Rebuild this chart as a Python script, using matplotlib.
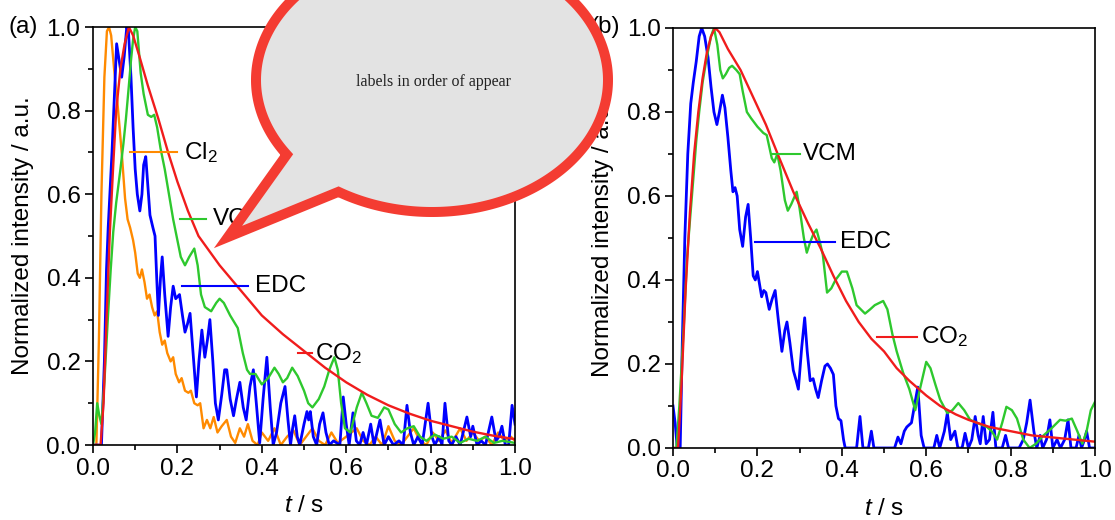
import numpy as np
import matplotlib
matplotlib.use('Agg')
import matplotlib.pyplot as plt
from matplotlib.patches import Polygon
from matplotlib.ticker import MultipleLocator

plt.rcParams['font.family'] = ['Liberation Sans', 'DejaVu Sans']
plt.rcParams['mathtext.fontset'] = 'custom'
plt.rcParams['mathtext.rm'] = 'Liberation Sans'
plt.rcParams['mathtext.it'] = 'Liberation Sans:italic'
plt.rcParams['mathtext.default'] = 'regular'

# panel (a)
cl2_t = [0.0, 0.008, 0.014, 0.02, 0.027, 0.033, 0.038, 0.043, 0.05, 0.057, 0.063, 0.068, 0.076, 0.082,
         0.088, 0.095, 0.1, 0.106, 0.111, 0.116, 0.122, 0.128, 0.134, 0.14, 0.146, 0.152, 0.158, 0.164,
         0.17, 0.176, 0.184, 0.19, 0.196, 0.204, 0.21, 0.218, 0.226, 0.232, 0.24, 0.248, 0.254, 0.262,
         0.27, 0.278, 0.286, 0.295, 0.305, 0.317, 0.327, 0.337, 0.348, 0.358, 0.367, 0.378, 0.39, 0.4,
         0.415, 0.43, 0.445, 0.46, 0.475, 0.49, 0.505, 0.52, 0.535, 0.55, 0.565, 0.58, 0.6, 0.625, 0.64,
         0.655, 0.67, 0.685, 0.7, 0.715, 0.73, 0.745, 0.76, 0.775, 0.79, 0.805, 0.82, 0.835, 0.85, 0.87,
         0.885, 0.9, 0.915, 0.93, 0.945, 0.96, 0.975, 0.99, 1.0]
cl2_y = [0.0, 0.0, 0.25, 0.6, 0.88, 0.99, 1.0, 0.98, 0.9, 0.83, 0.76, 0.7, 0.59, 0.54,
         0.52, 0.49, 0.46, 0.41, 0.4, 0.42, 0.39, 0.35, 0.36, 0.33, 0.31, 0.32, 0.27, 0.24,
         0.25, 0.22, 0.2, 0.21, 0.17, 0.15, 0.16, 0.13, 0.125, 0.13, 0.1, 0.095, 0.1, 0.04,
         0.06, 0.04, 0.067, 0.03, 0.045, 0.06, 0.02, 0.005, 0.04, 0.02, 0.05, 0.01, 0.0, 0.03,
         0.01, 0.04, 0.0, 0.02, 0.035, 0.0, 0.02, 0.04, 0.01, 0.0, 0.03, 0.005, 0.02, 0.04, 0.01,
         0.0, 0.02, 0.0, 0.045, 0.01, 0.0, 0.02, 0.04, 0.01, 0.0, 0.03, 0.01, 0.035, 0.005, 0.04,
         0.01, 0.03, 0.01, 0.02, 0.0, 0.03, 0.01, 0.02, 0.01]

vcm_a_t = [0.0, 0.005, 0.01, 0.015, 0.02, 0.027, 0.035, 0.042, 0.048, 0.055, 0.065, 0.072, 0.078, 0.085,
           0.09, 0.095, 0.1, 0.105, 0.113, 0.12, 0.13, 0.138, 0.145, 0.152, 0.16, 0.17, 0.18, 0.19, 0.2,
           0.208, 0.218, 0.228, 0.24, 0.248, 0.256, 0.265, 0.28, 0.292, 0.3, 0.31, 0.325, 0.343, 0.355,
           0.365, 0.372, 0.385, 0.4, 0.415, 0.43, 0.44, 0.45, 0.46, 0.472, 0.485, 0.5, 0.51, 0.52, 0.535,
           0.548, 0.56, 0.572, 0.58, 0.588, 0.597, 0.61, 0.625, 0.637, 0.648, 0.66, 0.675, 0.69, 0.7,
           0.715, 0.73, 0.745, 0.76, 0.775, 0.79, 0.81, 0.83, 0.85, 0.87, 0.89, 0.91, 0.93, 0.95, 0.97, 1.0]
vcm_a_y = [0.0, 0.03, 0.1, 0.07, 0.05, 0.15, 0.3, 0.42, 0.51, 0.58, 0.66, 0.72, 0.78, 0.86,
           0.92, 0.97, 1.0, 0.99, 0.89, 0.84, 0.79, 0.785, 0.79, 0.76, 0.71, 0.66, 0.6, 0.54, 0.49,
           0.45, 0.43, 0.45, 0.47, 0.43, 0.36, 0.33, 0.32, 0.34, 0.35, 0.34, 0.31, 0.28, 0.22,
           0.18, 0.17, 0.17, 0.145, 0.16, 0.185, 0.17, 0.15, 0.16, 0.185, 0.165, 0.13, 0.1, 0.09, 0.11,
           0.14, 0.18, 0.21, 0.18, 0.1, 0.04, 0.03, 0.09, 0.125, 0.1, 0.07, 0.065, 0.09, 0.085,
           0.05, 0.03, 0.04, 0.045, 0.02, 0.01, 0.025, 0.015, 0.02, 0.005, 0.015, 0.01, 0.02, 0.005, 0.01, 0.005]

edc_a_t = [0.0, 0.02, 0.027, 0.032, 0.036, 0.04, 0.045, 0.05, 0.056, 0.062, 0.068, 0.074, 0.08, 0.084,
           0.09, 0.095, 0.1, 0.105, 0.111, 0.116, 0.12, 0.125, 0.13, 0.135, 0.142, 0.147, 0.151, 0.155,
           0.16, 0.164, 0.17, 0.178, 0.184, 0.19, 0.196, 0.205, 0.212, 0.218, 0.224, 0.23, 0.237, 0.245,
           0.251, 0.258, 0.265, 0.271, 0.277, 0.284, 0.29, 0.297, 0.305, 0.312, 0.317, 0.325, 0.333, 0.34,
           0.348, 0.356, 0.363, 0.372, 0.38, 0.387, 0.395, 0.403, 0.412, 0.42, 0.427, 0.435, 0.445, 0.455,
           0.462, 0.468, 0.473, 0.478, 0.484, 0.49, 0.5, 0.507, 0.511, 0.515, 0.522, 0.53, 0.537, 0.545,
           0.552, 0.56, 0.57, 0.585, 0.593, 0.6, 0.607, 0.616, 0.624, 0.632, 0.64, 0.648, 0.658, 0.666,
           0.68, 0.69, 0.7, 0.712, 0.725, 0.735, 0.744, 0.752, 0.76, 0.77, 0.78, 0.794, 0.803, 0.81, 0.82,
           0.827, 0.834, 0.843, 0.85, 0.86, 0.87, 0.886, 0.895, 0.9, 0.91, 0.92, 0.93, 0.945, 0.955, 0.962,
           0.969, 0.977, 0.985, 0.993, 1.0]
edc_a_y = [0.0, 0.0, 0.2, 0.42, 0.52, 0.6, 0.7, 0.82, 0.96, 0.92, 0.88, 0.93, 1.0, 0.99,
           0.88, 0.76, 0.66, 0.6, 0.56, 0.6, 0.67, 0.69, 0.62, 0.55, 0.52, 0.5, 0.4, 0.31,
           0.4, 0.45, 0.36, 0.26, 0.33, 0.38, 0.35, 0.36, 0.31, 0.27, 0.29, 0.315, 0.22, 0.115,
           0.2, 0.275, 0.21, 0.25, 0.3, 0.2, 0.1, 0.06, 0.12, 0.18, 0.18, 0.11, 0.07, 0.11,
           0.15, 0.09, 0.06, 0.14, 0.18, 0.1, 0.005, 0.11, 0.21, 0.09, 0.0, 0.03, 0.1, 0.14,
           0.06, 0.0, 0.04, 0.07, 0.02, 0.0, 0.05, 0.08, 0.06, 0.08, 0.02, 0.0, 0.05, 0.077,
           0.03, 0.0, 0.01, 0.0, 0.115, 0.05, 0.0, 0.077, 0.01, 0.0, 0.03, 0.0, 0.05, 0.0,
           0.06, 0.0, 0.02, 0.0, 0.01, 0.0, 0.095, 0.03, 0.0, 0.02, 0.0, 0.1, 0.02, 0.0, 0.02,
           0.0, 0.1, 0.01, 0.0, 0.02, 0.0, 0.067, 0.02, 0.045, 0.0, 0.01, 0.0, 0.067, 0.01, 0.02,
           0.045, 0.0, 0.0, 0.095, 0.05]

co2_a_t = [0.0, 0.018, 0.025, 0.032, 0.04, 0.048, 0.055, 0.065, 0.075, 0.085, 0.095, 0.11, 0.13, 0.155,
           0.178, 0.2, 0.225, 0.25, 0.3, 0.35, 0.4, 0.45, 0.5, 0.55, 0.6,
           0.65, 0.7, 0.75, 0.8, 0.85, 0.9, 0.95, 1.0]
co2_a_y = [0.0, 0.0, 0.1, 0.3, 0.51, 0.67, 0.8, 0.9, 0.96, 1.0, 0.98, 0.93, 0.86, 0.78,
           0.7, 0.63, 0.56, 0.5, 0.43, 0.37, 0.31, 0.265, 0.225, 0.185, 0.15,
           0.12, 0.095, 0.075, 0.058, 0.045, 0.032, 0.022, 0.014]

# panel (b)
vcm_b_t = [0.0, 0.008, 0.015, 0.025, 0.033, 0.04, 0.048, 0.055, 0.062, 0.07, 0.08, 0.09, 0.097, 0.105,
           0.112, 0.118, 0.125, 0.133, 0.14, 0.15, 0.158, 0.165, 0.175, 0.185, 0.2, 0.214, 0.222, 0.234,
           0.24, 0.247, 0.255, 0.265, 0.272, 0.28, 0.293, 0.3, 0.31, 0.317, 0.325, 0.333, 0.34, 0.348,
           0.355, 0.365, 0.375, 0.385, 0.4, 0.412, 0.425, 0.435, 0.445, 0.455, 0.467, 0.478, 0.488, 0.498,
           0.508, 0.52, 0.53, 0.545, 0.56, 0.574, 0.585, 0.6, 0.61, 0.622, 0.633, 0.65, 0.662, 0.676,
           0.69, 0.704, 0.72, 0.744, 0.755, 0.768, 0.78, 0.79, 0.803, 0.815, 0.83, 0.845, 0.86, 0.878,
           0.895, 0.917, 0.93, 0.945, 0.958, 0.97, 0.98, 0.99, 1.0]
vcm_b_y = [0.0, 0.0, 0.1, 0.28, 0.45, 0.54, 0.64, 0.73, 0.8, 0.87, 0.93, 0.98, 1.0, 0.96,
           0.9, 0.88, 0.89, 0.905, 0.91, 0.9, 0.89, 0.85, 0.8, 0.785, 0.765, 0.75, 0.745, 0.69,
           0.68, 0.7, 0.66, 0.59, 0.565, 0.58, 0.61, 0.57, 0.5, 0.465, 0.49, 0.51, 0.52, 0.49,
           0.46, 0.37, 0.38, 0.4, 0.42, 0.42, 0.38, 0.34, 0.33, 0.32, 0.33, 0.34, 0.345, 0.35,
           0.33, 0.27, 0.23, 0.18, 0.14, 0.09, 0.14, 0.205, 0.19, 0.15, 0.115, 0.083, 0.09, 0.107,
           0.09, 0.067, 0.06, 0.05, 0.04, 0.02, 0.06, 0.098, 0.09, 0.07, 0.02, 0.0, 0.01, 0.03,
           0.045, 0.067, 0.065, 0.07, 0.04, 0.01, 0.04, 0.09, 0.11]

edc_b_t = [0.0, 0.005, 0.01, 0.017, 0.022, 0.028, 0.035, 0.042, 0.048, 0.055, 0.062, 0.068, 0.075, 0.083,
           0.09, 0.097, 0.104, 0.11, 0.117, 0.123, 0.13, 0.137, 0.142, 0.147, 0.152, 0.158, 0.165, 0.172,
           0.178, 0.184, 0.19, 0.195, 0.2, 0.205, 0.21, 0.215, 0.22, 0.228, 0.235, 0.242, 0.25, 0.258,
           0.265, 0.27, 0.277, 0.285, 0.292, 0.297, 0.305, 0.312, 0.318, 0.325, 0.332, 0.338, 0.344, 0.352,
           0.36, 0.366, 0.373, 0.38, 0.386, 0.392, 0.398, 0.404, 0.408, 0.435, 0.443, 0.45, 0.463, 0.47,
           0.476, 0.525, 0.533, 0.54, 0.548, 0.554, 0.565, 0.58, 0.588, 0.595, 0.618, 0.625, 0.632, 0.643,
           0.65, 0.658, 0.668, 0.675, 0.685, 0.692, 0.7, 0.708, 0.716, 0.723, 0.728, 0.735, 0.742, 0.75,
           0.758, 0.765, 0.78, 0.788, 0.795, 0.82, 0.83, 0.838, 0.846, 0.855, 0.862, 0.87, 0.876, 0.885,
           0.893, 0.9, 0.91, 0.918, 0.928, 0.936, 0.943, 0.955, 0.962, 0.968, 0.975, 0.98, 0.987, 1.0]
edc_b_y = [0.1, 0.06, 0.0, 0.0, 0.25, 0.5, 0.7, 0.82, 0.87, 0.92, 0.98, 1.0, 0.98, 0.93,
           0.86, 0.8, 0.77, 0.8, 0.84, 0.81, 0.74, 0.66, 0.61, 0.62, 0.6, 0.52, 0.48, 0.55,
           0.58, 0.5, 0.41, 0.4, 0.42, 0.39, 0.36, 0.375, 0.37, 0.33, 0.355, 0.375, 0.3, 0.23,
           0.28, 0.3, 0.25, 0.185, 0.16, 0.14, 0.24, 0.31, 0.23, 0.16, 0.165, 0.14, 0.12, 0.16,
           0.195, 0.2, 0.19, 0.175, 0.1, 0.07, 0.065, 0.02, 0.0, 0.0, 0.075, 0.0, 0.0, 0.04,
           0.0, 0.0, 0.026, 0.01, 0.04, 0.05, 0.06, 0.145, 0.03, 0.0, 0.0, 0.03, 0.0, 0.04,
           0.083, 0.02, 0.04, 0.0, 0.0, 0.035, 0.0, 0.02, 0.075, 0.03, 0.01, 0.075, 0.01, 0.02,
           0.085, 0.0, 0.0, 0.03, 0.0, 0.0, 0.02, 0.06, 0.114, 0.04, 0.0, 0.03, 0.0, 0.02,
           0.067, 0.0, 0.02, 0.0, 0.02, 0.067, 0.0, 0.0, 0.03, 0.0, 0.02, 0.04, 0.0, 0.0]

co2_b_t = [0.0, 0.012, 0.02, 0.03, 0.04, 0.05, 0.06, 0.07, 0.08, 0.09, 0.1, 0.11, 0.13, 0.16,
           0.19, 0.22, 0.25, 0.285, 0.32, 0.35, 0.38, 0.41, 0.44, 0.47, 0.5, 0.53, 0.56, 0.6, 0.633,
           0.67, 0.7, 0.75, 0.8, 0.85, 0.9, 0.95, 1.0]
co2_b_y = [0.0, 0.0, 0.15, 0.38, 0.56, 0.7, 0.8, 0.88, 0.94, 0.98, 1.0, 0.99, 0.95, 0.9,
           0.835, 0.77, 0.695, 0.61, 0.535, 0.475, 0.41, 0.35, 0.3, 0.26, 0.23, 0.19, 0.16, 0.125, 0.1,
           0.08, 0.067, 0.05, 0.04, 0.03, 0.025, 0.02, 0.015]

c_orange = '#ff8a00'
c_green = '#2ec82e'
c_blue = '#0000ff'
c_red = '#f01c1c'
fs = 17.5

fig = plt.figure(figsize=(11.15, 5.2), dpi=100)
ax_a = fig.add_axes([0.0834, 0.1442, 0.3785, 0.8038])
ax_b = fig.add_axes([0.6036, 0.1385, 0.3785, 0.8077])


def style(ax):
    ax.set_xlim(0, 1.0)
    ax.set_ylim(0, 1.0)
    ax.xaxis.set_major_locator(MultipleLocator(0.2))
    ax.xaxis.set_minor_locator(MultipleLocator(0.1))
    ax.yaxis.set_major_locator(MultipleLocator(0.2))
    ax.yaxis.set_minor_locator(MultipleLocator(0.1))
    ax.tick_params(which='both', direction='out', top=False, right=False, width=1.2, labelsize=fs, pad=3)
    ax.tick_params(which='major', length=6)
    ax.tick_params(which='minor', length=3.5)
    for s in ax.spines.values():
        s.set_linewidth(1.2)
    ax.set_xlabel('$\\it{t}$ / s', fontsize=fs)
    ax.set_ylabel('Normalized intensity / a.u.', fontsize=fs)
    ax.xaxis.set_label_coords(0.5, -0.12)
    ax.yaxis.set_label_coords(-0.14, 0.5)


ax_a.plot(cl2_t, cl2_y, color=c_orange, lw=1.7, solid_joinstyle='round')
ax_a.plot(edc_a_t, edc_a_y, color=c_blue, lw=2.0, solid_joinstyle='round')
ax_a.plot(vcm_a_t, vcm_a_y, color=c_green, lw=1.7, solid_joinstyle='round')
ax_a.plot(co2_a_t, co2_a_y, color=c_red, lw=1.7, solid_joinstyle='round')

ax_a.plot([0.088, 0.2], [0.70, 0.70], color=c_orange, lw=1.5)
ax_a.text(0.215, 0.70, 'Cl$_2$', fontsize=fs, va='center')
ax_a.plot([0.206, 0.268], [0.54, 0.54], color=c_green, lw=1.5)
ax_a.text(0.283, 0.54, 'VCM', fontsize=fs, va='center')
ax_a.plot([0.21, 0.367], [0.38, 0.38], color=c_blue, lw=1.5)
ax_a.text(0.383, 0.38, 'EDC', fontsize=fs, va='center')
ax_a.plot([0.486, 0.52], [0.22, 0.22], color=c_red, lw=1.5)
ax_a.text(0.525, 0.22, 'CO$_2$', fontsize=fs, va='center')
style(ax_a)

ax_b.plot(edc_b_t, edc_b_y, color=c_blue, lw=2.0, solid_joinstyle='round')
ax_b.plot(vcm_b_t, vcm_b_y, color=c_green, lw=1.7, solid_joinstyle='round')
ax_b.plot(co2_b_t, co2_b_y, color=c_red, lw=1.7, solid_joinstyle='round')

ax_b.plot([0.235, 0.3], [0.70, 0.70], color=c_green, lw=1.5)
ax_b.text(0.308, 0.70, 'VCM', fontsize=fs, va='center')
ax_b.plot([0.195, 0.385], [0.49, 0.49], color=c_blue, lw=1.5)
ax_b.text(0.395, 0.49, 'EDC', fontsize=fs, va='center')
ax_b.plot([0.483, 0.578], [0.265, 0.265], color=c_red, lw=1.5)
ax_b.text(0.588, 0.265, 'CO$_2$', fontsize=fs, va='center')
style(ax_b)

fig.text(9 / 1115, 1 - 27 / 520, '(a)', fontsize=fs, va='center', ha='left')
fig.text(590 / 1115, 1 - 27 / 520, '(b)', fontsize=fs, va='center', ha='left')

# speech bubble overlay in pixel coordinates, drawn above everything
ov = fig.add_axes([0, 0, 1, 1])
ov.set_zorder(10)
ov.set_xlim(0, 1115)
ov.set_ylim(520, 0)
ov.axis('off')
theta = np.radians(np.linspace(145.6, 482.1, 300))
bx = 432 + 176 * np.cos(theta)
by = 80 + 132 * np.sin(theta)
verts = list(zip(bx, by)) + [(228, 237)]
ov.add_patch(Polygon(verts, closed=True, facecolor='#e3e3e3', edgecolor='#f43c32', lw=7.2,
                     joinstyle='miter', clip_on=False))
ov.text(433, 82, 'labels in order of appear', ha='center', va='center', fontsize=11.5,
        family='Liberation Serif', color='#222222')

fig.savefig('out.png', dpi=100)
